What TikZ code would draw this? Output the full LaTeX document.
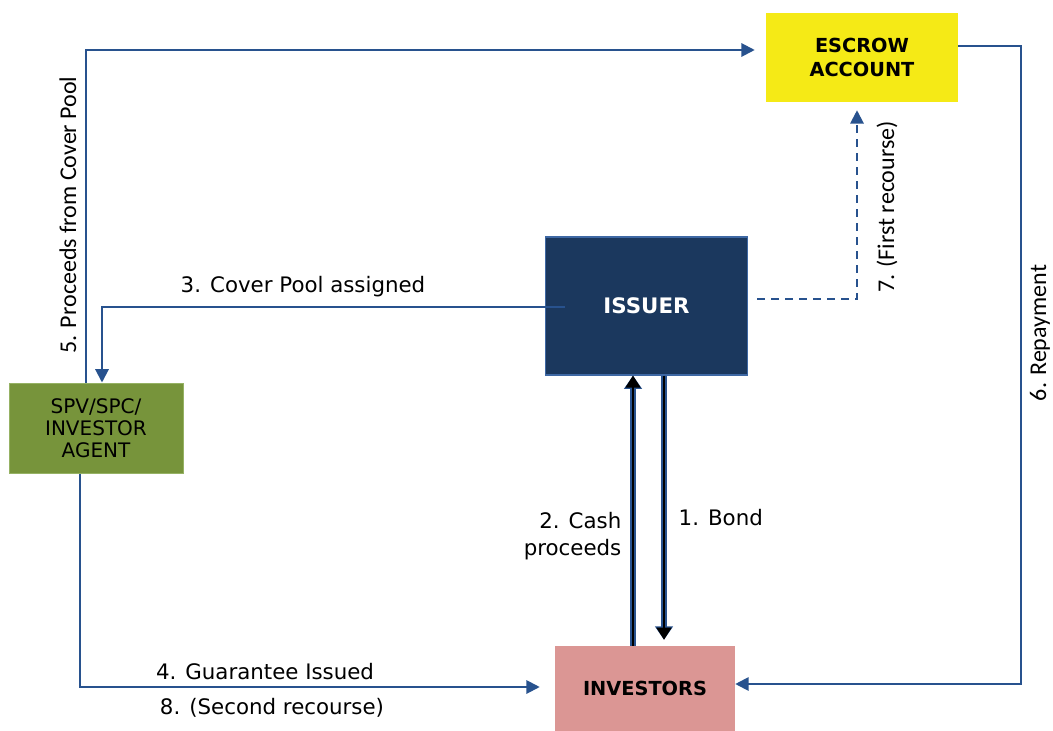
\documentclass[tikz,border=0pt]{standalone}
\usepackage{fontspec}
\setmainfont{DejaVu Sans}
\newfontfamily\calibrifont{Carlito}
\usetikzlibrary{arrows.meta,calc}

\definecolor{flowblue}{RGB}{40,82,142}
\definecolor{issuerblue}{RGB}{27,56,94}
\definecolor{issueredge}{RGB}{62,104,164}
\definecolor{escrowyellow}{RGB}{245,234,22}
\definecolor{spvgreen}{RGB}{119,148,59}
\definecolor{spvedge}{RGB}{150,178,100}
\definecolor{investpink}{RGB}{219,150,148}

\begin{document}
\begin{tikzpicture}[x=0.75pt,y=-0.75pt,
    flow/.style={draw=flowblue,line width=1.5pt,-{Triangle[length=10pt,width=10pt]}},
    recourse/.style={flow,dash pattern=on 6pt off 4.5pt},
    bond/.style={draw=black,line width=1.6pt,-{Triangle[length=9pt,width=11pt]},
        preaction={draw=flowblue,line width=3.8pt,-{Triangle[length=10pt,width=13pt]}}},
    lbl/.style={font=\fontsize{16}{20}\selectfont},
    vlbl/.style={font=\calibrifont\fontsize{18}{20}\selectfont,rotate=90}]
    \useasboundingbox (0,0) rectangle (1053,731);
    % boxes
    \node[fill=escrowyellow,minimum width=144pt,minimum height=66.75pt,align=center,
        font=\fontsize{14.5}{18}\selectfont\bfseries] (escrow) at (862,57.5) {ESCROW\\ACCOUNT};
    \node[fill=issuerblue,draw=issueredge,line width=0.9pt,minimum width=152pt,minimum height=103.5pt,
        text=white,font=\fontsize{16}{19}\selectfont\bfseries] (issuer) at (646.5,306) {ISSUER};
    \node[fill=spvgreen,draw=spvedge,line width=0.75pt,minimum width=130.5pt,minimum height=67.5pt,align=center,
        font=\fontsize{15}{16.5}\selectfont] (spv) at (96,428) {SPV/SPC/\\INVESTOR\\AGENT};
    \node[fill=investpink,minimum width=135pt,minimum height=63.75pt,
        font=\fontsize{14.5}{18}\selectfont\bfseries] (investors) at (645,688.5) {INVESTORS};
    % connectors
    \draw[flow] ($(spv.north)+(-10,0)$) |- ($(escrow.west)+(-11,-7.5)$);
    \draw[flow] ($(issuer.west)+(20,1)$) -| ($(spv.north)+(6,0)$);
    \draw[flow] ($(escrow.east)+(0,-11.5)$) -- ++(63,0) |- ($(investors.east)+(0,-4.5)$);
    \draw[recourse] ($(issuer.east)+(9,-7)$) -| ($(escrow.south)+(-5,8)$);
    \draw[flow] ($(spv.south)+(-16,0)$) |- ($(investors.west)+(-15,-1.5)$);
    \draw[bond] ($(investors.north)+(-12,0)$) coordinate (c2) -- (c2 |- issuer.south);
    \draw[bond] ($(issuer.south)+(17.5,0)$) coordinate (c1) -- ($(c1 |- investors.north)+(0,-6)$);
    % labels
    \node[vlbl] (l5) at (68,215) {5. Proceeds from Cover Pool};
    \node[lbl] (l3) at (303,287) {3. Cover Pool assigned};
    \node[vlbl] (l7) at (887,207) {7. (First recourse)};
    \node[vlbl] (l6) at (1040,333) {6. Repayment};
    \node[lbl,align=right,anchor=east] (l2) at (626,536) {2. Cash\\proceeds};
    \node[lbl,anchor=west] (l1) at (674,518) {1. Bond};
    \node[lbl] (l4) at (265,672) {4. Guarantee Issued};
    \node[lbl] (l8) at (272,708) {8. (Second recourse)};
\end{tikzpicture}
\end{document}
